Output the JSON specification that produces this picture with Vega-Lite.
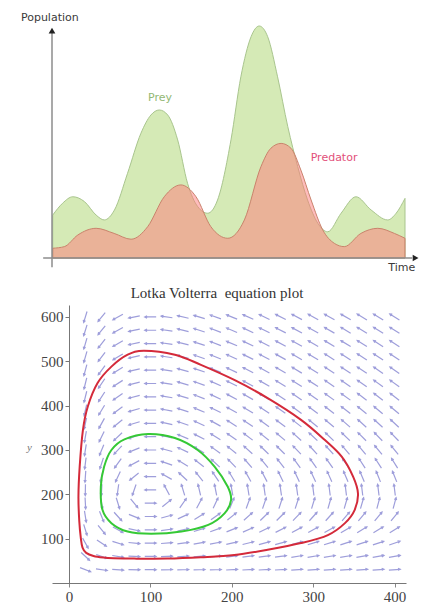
{
"$schema": "https://vega.github.io/schema/vega-lite/v6.json",
"background": "white",
"padding": {"left": 20, "top": 12, "right": 5, "bottom": 5},
"bounds": "flush",
"spacing": 47,
"config": {"view": {"stroke": null}, "axis": {"grid": false}},
"datasets": {
"prey": [
{"t":0.2,"p":18.5},{"t":3.0,"p":23.6},{"t":5.9,"p":26.4},{"t":9.2,"p":24.3},{"t":12.5,"p":18.5},{"t":14.8,"p":16.4},{"t":17.7,"p":20.7},{"t":21.4,"p":36.5},{"t":25.2,"p":53.8},{"t":28.0,"p":61.6},{"t":30.4,"p":63.8},{"t":32.8,"p":61.6},{"t":35.6,"p":50.9},{"t":38.4,"p":32.2},{"t":41.3,"p":22.1},{"t":44.1,"p":19.3},{"t":46.9,"p":25.0},{"t":50.7,"p":50.9},{"t":53.5,"p":78.1},{"t":56.4,"p":95.4},{"t":58.7,"p":100},{"t":61.1,"p":95.4},{"t":63.9,"p":78.1},{"t":66.8,"p":56.6},{"t":69.6,"p":39.4},{"t":72.4,"p":25.0},{"t":75.3,"p":15.0},{"t":78.1,"p":11.3},{"t":81.9,"p":19.3},{"t":86.1,"p":26.4},{"t":90.4,"p":20.7},{"t":95.1,"p":16.4},{"t":97.5,"p":19.3},{"t":100,"p":25.7}
],
"pred": [
{"t":0.2,"p":4.2},{"t":3.5,"p":4.9},{"t":7.3,"p":9.9},{"t":12.5,"p":12.8},{"t":17.6,"p":10.6},{"t":22.4,"p":8.1},{"t":27.1,"p":13.5},{"t":31.8,"p":26.4},{"t":36.5,"p":31.5},{"t":40.8,"p":26.4},{"t":45.0,"p":13.5},{"t":49.8,"p":8.5},{"t":54.5,"p":16.4},{"t":59.2,"p":39.4},{"t":62.0,"p":47.3},{"t":64.9,"p":49.4},{"t":67.7,"p":47.3},{"t":70.5,"p":37.9},{"t":73.4,"p":25.0},{"t":76.7,"p":12.1},{"t":80.0,"p":6.3},{"t":82.8,"p":4.9},{"t":87.5,"p":10.6},{"t":92.3,"p":12.8},{"t":97.0,"p":10.6},{"t":100,"p":8.5}
],
"orbits": [
{"orbit":"red","i":0,"x":92,"y":524},{"orbit":"red","i":1,"x":130,"y":515},{"orbit":"red","i":2,"x":162,"y":492},{"orbit":"red","i":3,"x":203,"y":458},{"orbit":"red","i":4,"x":244,"y":417},{"orbit":"red","i":5,"x":285,"y":368},{"orbit":"red","i":6,"x":314,"y":323},{"orbit":"red","i":7,"x":335,"y":285},{"orbit":"red","i":8,"x":349,"y":240},{"orbit":"red","i":9,"x":355,"y":202},{"orbit":"red","i":10,"x":351,"y":165},{"orbit":"red","i":11,"x":339,"y":135},{"orbit":"red","i":12,"x":318,"y":108},{"orbit":"red","i":13,"x":285,"y":90},{"orbit":"red","i":14,"x":244,"y":75},{"orbit":"red","i":15,"x":203,"y":63},{"orbit":"red","i":16,"x":162,"y":58},{"orbit":"red","i":17,"x":121,"y":55},{"orbit":"red","i":18,"x":80,"y":55},{"orbit":"red","i":19,"x":55,"y":56},{"orbit":"red","i":20,"x":42,"y":57.5},{"orbit":"red","i":21,"x":30,"y":61},{"orbit":"red","i":22,"x":21,"y":68},{"orbit":"red","i":23,"x":16.5,"y":80},{"orbit":"red","i":24,"x":14.5,"y":100},{"orbit":"red","i":25,"x":12.5,"y":140},{"orbit":"red","i":26,"x":11.5,"y":195},{"orbit":"red","i":27,"x":13,"y":262},{"orbit":"red","i":28,"x":17,"y":345},{"orbit":"red","i":29,"x":23,"y":398},{"orbit":"red","i":30,"x":35,"y":451},{"orbit":"red","i":31,"x":52,"y":488},{"orbit":"red","i":32,"x":72,"y":515},
{"orbit":"green","i":0,"x":97,"y":336},{"orbit":"green","i":1,"x":130,"y":327},{"orbit":"green","i":2,"x":158,"y":300},{"orbit":"green","i":3,"x":179,"y":262},{"orbit":"green","i":4,"x":195,"y":217},{"orbit":"green","i":5,"x":199,"y":187},{"orbit":"green","i":6,"x":191,"y":157},{"orbit":"green","i":7,"x":171,"y":131},{"orbit":"green","i":8,"x":138,"y":116},{"orbit":"green","i":9,"x":101,"y":111},{"orbit":"green","i":10,"x":72,"y":116},{"orbit":"green","i":11,"x":52,"y":135},{"orbit":"green","i":12,"x":41,"y":165},{"orbit":"green","i":13,"x":39,"y":217},{"orbit":"green","i":14,"x":43,"y":262},{"orbit":"green","i":15,"x":52,"y":300},{"orbit":"green","i":16,"x":68,"y":324}
],
"field": [
{"x":20,"y":30,"a":21},{"x":40,"y":30,"a":8},{"x":60,"y":30,"a":4},{"x":80,"y":30,"a":1},{"x":100,"y":30,"a":0},{"x":120,"y":30,"a":-1},{"x":140,"y":30,"a":-2},{"x":160,"y":30,"a":-2},{"x":180,"y":30,"a":-2},{"x":200,"y":30,"a":-3},{"x":220,"y":30,"a":-3},{"x":240,"y":30,"a":-3},{"x":260,"y":30,"a":-3},{"x":280,"y":30,"a":-4},{"x":300,"y":30,"a":-4},{"x":320,"y":30,"a":-4},{"x":340,"y":30,"a":-4},{"x":360,"y":30,"a":-4},{"x":380,"y":30,"a":-4},{"x":400,"y":30,"a":-4},
{"x":20,"y":60,"a":43},{"x":40,"y":60,"a":19},{"x":60,"y":60,"a":9},{"x":80,"y":60,"a":3},{"x":100,"y":60,"a":0},{"x":120,"y":60,"a":-2},{"x":140,"y":60,"a":-4},{"x":160,"y":60,"a":-5},{"x":180,"y":60,"a":-6},{"x":200,"y":60,"a":-7},{"x":220,"y":60,"a":-7},{"x":240,"y":60,"a":-8},{"x":260,"y":60,"a":-8},{"x":280,"y":60,"a":-9},{"x":300,"y":60,"a":-9},{"x":320,"y":60,"a":-9},{"x":340,"y":60,"a":-9},{"x":360,"y":60,"a":-10},{"x":380,"y":60,"a":-10},{"x":400,"y":60,"a":-10},
{"x":20,"y":90,"a":61},{"x":40,"y":90,"a":34},{"x":60,"y":90,"a":17},{"x":80,"y":90,"a":6},{"x":100,"y":90,"a":0},{"x":120,"y":90,"a":-4},{"x":140,"y":90,"a":-7},{"x":160,"y":90,"a":-10},{"x":180,"y":90,"a":-11},{"x":200,"y":90,"a":-13},{"x":220,"y":90,"a":-14},{"x":240,"y":90,"a":-15},{"x":260,"y":90,"a":-15},{"x":280,"y":90,"a":-16},{"x":300,"y":90,"a":-17},{"x":320,"y":90,"a":-17},{"x":340,"y":90,"a":-18},{"x":360,"y":90,"a":-18},{"x":380,"y":90,"a":-18},{"x":400,"y":90,"a":-19},
{"x":20,"y":120,"a":73},{"x":40,"y":120,"a":51},{"x":60,"y":120,"a":29},{"x":80,"y":120,"a":12},{"x":100,"y":120,"a":0},{"x":120,"y":120,"a":-8},{"x":140,"y":120,"a":-13},{"x":160,"y":120,"a":-17},{"x":180,"y":120,"a":-20},{"x":200,"y":120,"a":-22},{"x":220,"y":120,"a":-24},{"x":240,"y":120,"a":-26},{"x":260,"y":120,"a":-27},{"x":280,"y":120,"a":-28},{"x":300,"y":120,"a":-29},{"x":320,"y":120,"a":-29},{"x":340,"y":120,"a":-30},{"x":360,"y":120,"a":-31},{"x":380,"y":120,"a":-31},{"x":400,"y":120,"a":-32},
{"x":20,"y":150,"a":81},{"x":40,"y":150,"a":68},{"x":60,"y":150,"a":48},{"x":80,"y":150,"a":22},{"x":100,"y":150,"a":0},{"x":120,"y":150,"a":-15},{"x":140,"y":150,"a":-25},{"x":160,"y":150,"a":-32},{"x":180,"y":150,"a":-36},{"x":200,"y":150,"a":-39},{"x":220,"y":150,"a":-42},{"x":240,"y":150,"a":-44},{"x":260,"y":150,"a":-45},{"x":280,"y":150,"a":-46},{"x":300,"y":150,"a":-48},{"x":320,"y":150,"a":-48},{"x":340,"y":150,"a":-49},{"x":360,"y":150,"a":-50},{"x":380,"y":150,"a":-50},{"x":400,"y":150,"a":-51},
{"x":20,"y":180,"a":87},{"x":40,"y":180,"a":82},{"x":60,"y":180,"a":73},{"x":80,"y":180,"a":51},{"x":100,"y":180,"a":0},{"x":120,"y":180,"a":-39},{"x":140,"y":180,"a":-55},{"x":160,"y":180,"a":-62},{"x":180,"y":180,"a":-65},{"x":200,"y":180,"a":-68},{"x":220,"y":180,"a":-70},{"x":240,"y":180,"a":-71},{"x":260,"y":180,"a":-72},{"x":280,"y":180,"a":-72},{"x":300,"y":180,"a":-73},{"x":320,"y":180,"a":-74},{"x":340,"y":180,"a":-74},{"x":360,"y":180,"a":-74},{"x":380,"y":180,"a":-75},{"x":400,"y":180,"a":-75},
{"x":20,"y":210,"a":91},{"x":40,"y":210,"a":93},{"x":60,"y":210,"a":98},{"x":80,"y":210,"a":109},{"x":100,"y":210,"a":180},{"x":120,"y":210,"a":242},{"x":140,"y":210,"a":253},{"x":160,"y":210,"a":257},{"x":180,"y":210,"a":259},{"x":200,"y":210,"a":260},{"x":220,"y":210,"a":261},{"x":240,"y":210,"a":262},{"x":260,"y":210,"a":262},{"x":280,"y":210,"a":262},{"x":300,"y":210,"a":263},{"x":320,"y":210,"a":263},{"x":340,"y":210,"a":263},{"x":360,"y":210,"a":263},{"x":380,"y":210,"a":263},{"x":400,"y":210,"a":263},
{"x":20,"y":240,"a":94},{"x":40,"y":240,"a":102},{"x":60,"y":240,"a":115},{"x":80,"y":240,"a":141},{"x":100,"y":240,"a":180},{"x":120,"y":240,"a":209},{"x":140,"y":240,"a":223},{"x":160,"y":240,"a":231},{"x":180,"y":240,"a":236},{"x":200,"y":240,"a":239},{"x":220,"y":240,"a":241},{"x":240,"y":240,"a":242},{"x":260,"y":240,"a":244},{"x":280,"y":240,"a":245},{"x":300,"y":240,"a":245},{"x":320,"y":240,"a":246},{"x":340,"y":240,"a":247},{"x":360,"y":240,"a":247},{"x":380,"y":240,"a":248},{"x":400,"y":240,"a":248},
{"x":20,"y":270,"a":97},{"x":40,"y":270,"a":108},{"x":60,"y":270,"a":126},{"x":80,"y":270,"a":152},{"x":100,"y":270,"a":180},{"x":120,"y":270,"a":199},{"x":140,"y":270,"a":211},{"x":160,"y":270,"a":218},{"x":180,"y":270,"a":223},{"x":200,"y":270,"a":226},{"x":220,"y":270,"a":229},{"x":240,"y":270,"a":231},{"x":260,"y":270,"a":232},{"x":280,"y":270,"a":234},{"x":300,"y":270,"a":235},{"x":320,"y":270,"a":235},{"x":340,"y":270,"a":236},{"x":360,"y":270,"a":237},{"x":380,"y":270,"a":237},{"x":400,"y":270,"a":238},
{"x":20,"y":300,"a":99},{"x":40,"y":300,"a":112},{"x":60,"y":300,"a":133},{"x":80,"y":300,"a":158},{"x":100,"y":300,"a":180},{"x":120,"y":300,"a":195},{"x":140,"y":300,"a":205},{"x":160,"y":300,"a":212},{"x":180,"y":300,"a":216},{"x":200,"y":300,"a":219},{"x":220,"y":300,"a":222},{"x":240,"y":300,"a":224},{"x":260,"y":300,"a":225},{"x":280,"y":300,"a":226},{"x":300,"y":300,"a":228},{"x":320,"y":300,"a":228},{"x":340,"y":300,"a":229},{"x":360,"y":300,"a":230},{"x":380,"y":300,"a":230},{"x":400,"y":300,"a":231},
{"x":20,"y":330,"a":100},{"x":40,"y":330,"a":116},{"x":60,"y":330,"a":137},{"x":80,"y":330,"a":161},{"x":100,"y":330,"a":180},{"x":120,"y":330,"a":193},{"x":140,"y":330,"a":202},{"x":160,"y":330,"a":207},{"x":180,"y":330,"a":212},{"x":200,"y":330,"a":215},{"x":220,"y":330,"a":217},{"x":240,"y":330,"a":219},{"x":260,"y":330,"a":220},{"x":280,"y":330,"a":222},{"x":300,"y":330,"a":223},{"x":320,"y":330,"a":224},{"x":340,"y":330,"a":224},{"x":360,"y":330,"a":225},{"x":380,"y":330,"a":226},{"x":400,"y":330,"a":226},
{"x":20,"y":360,"a":102},{"x":40,"y":360,"a":119},{"x":60,"y":360,"a":141},{"x":80,"y":360,"a":163},{"x":100,"y":360,"a":180},{"x":120,"y":360,"a":192},{"x":140,"y":360,"a":199},{"x":160,"y":360,"a":205},{"x":180,"y":360,"a":209},{"x":200,"y":360,"a":212},{"x":220,"y":360,"a":214},{"x":240,"y":360,"a":216},{"x":260,"y":360,"a":217},{"x":280,"y":360,"a":218},{"x":300,"y":360,"a":219},{"x":320,"y":360,"a":220},{"x":340,"y":360,"a":221},{"x":360,"y":360,"a":222},{"x":380,"y":360,"a":222},{"x":400,"y":360,"a":223},
{"x":20,"y":390,"a":103},{"x":40,"y":390,"a":121},{"x":60,"y":390,"a":143},{"x":80,"y":390,"a":164},{"x":100,"y":390,"a":180},{"x":120,"y":390,"a":191},{"x":140,"y":390,"a":198},{"x":160,"y":390,"a":203},{"x":180,"y":390,"a":206},{"x":200,"y":390,"a":209},{"x":220,"y":390,"a":211},{"x":240,"y":390,"a":213},{"x":260,"y":390,"a":215},{"x":280,"y":390,"a":216},{"x":300,"y":390,"a":217},{"x":320,"y":390,"a":218},{"x":340,"y":390,"a":218},{"x":360,"y":390,"a":219},{"x":380,"y":390,"a":220},{"x":400,"y":390,"a":220},
{"x":20,"y":420,"a":104},{"x":40,"y":420,"a":123},{"x":60,"y":420,"a":145},{"x":80,"y":420,"a":165},{"x":100,"y":420,"a":180},{"x":120,"y":420,"a":190},{"x":140,"y":420,"a":197},{"x":160,"y":420,"a":201},{"x":180,"y":420,"a":205},{"x":200,"y":420,"a":208},{"x":220,"y":420,"a":210},{"x":240,"y":420,"a":211},{"x":260,"y":420,"a":213},{"x":280,"y":420,"a":214},{"x":300,"y":420,"a":215},{"x":320,"y":420,"a":216},{"x":340,"y":420,"a":216},{"x":360,"y":420,"a":217},{"x":380,"y":420,"a":218},{"x":400,"y":420,"a":218},
{"x":20,"y":450,"a":104},{"x":40,"y":450,"a":124},{"x":60,"y":450,"a":147},{"x":80,"y":450,"a":166},{"x":100,"y":450,"a":180},{"x":120,"y":450,"a":189},{"x":140,"y":450,"a":196},{"x":160,"y":450,"a":200},{"x":180,"y":450,"a":204},{"x":200,"y":450,"a":206},{"x":220,"y":450,"a":208},{"x":240,"y":450,"a":210},{"x":260,"y":450,"a":211},{"x":280,"y":450,"a":212},{"x":300,"y":450,"a":213},{"x":320,"y":450,"a":214},{"x":340,"y":450,"a":215},{"x":360,"y":450,"a":215},{"x":380,"y":450,"a":216},{"x":400,"y":450,"a":216},
{"x":20,"y":480,"a":105},{"x":40,"y":480,"a":126},{"x":60,"y":480,"a":148},{"x":80,"y":480,"a":167},{"x":100,"y":480,"a":180},{"x":120,"y":480,"a":189},{"x":140,"y":480,"a":195},{"x":160,"y":480,"a":199},{"x":180,"y":480,"a":203},{"x":200,"y":480,"a":205},{"x":220,"y":480,"a":207},{"x":240,"y":480,"a":209},{"x":260,"y":480,"a":210},{"x":280,"y":480,"a":211},{"x":300,"y":480,"a":212},{"x":320,"y":480,"a":213},{"x":340,"y":480,"a":213},{"x":360,"y":480,"a":214},{"x":380,"y":480,"a":215},{"x":400,"y":480,"a":215},
{"x":20,"y":510,"a":106},{"x":40,"y":510,"a":127},{"x":60,"y":510,"a":149},{"x":80,"y":510,"a":167},{"x":100,"y":510,"a":180},{"x":120,"y":510,"a":189},{"x":140,"y":510,"a":194},{"x":160,"y":510,"a":199},{"x":180,"y":510,"a":202},{"x":200,"y":510,"a":204},{"x":220,"y":510,"a":206},{"x":240,"y":510,"a":208},{"x":260,"y":510,"a":209},{"x":280,"y":510,"a":210},{"x":300,"y":510,"a":211},{"x":320,"y":510,"a":212},{"x":340,"y":510,"a":212},{"x":360,"y":510,"a":213},{"x":380,"y":510,"a":213},{"x":400,"y":510,"a":214},
{"x":20,"y":540,"a":106},{"x":40,"y":540,"a":128},{"x":60,"y":540,"a":150},{"x":80,"y":540,"a":168},{"x":100,"y":540,"a":180},{"x":120,"y":540,"a":188},{"x":140,"y":540,"a":194},{"x":160,"y":540,"a":198},{"x":180,"y":540,"a":201},{"x":200,"y":540,"a":203},{"x":220,"y":540,"a":205},{"x":240,"y":540,"a":207},{"x":260,"y":540,"a":208},{"x":280,"y":540,"a":209},{"x":300,"y":540,"a":210},{"x":320,"y":540,"a":211},{"x":340,"y":540,"a":211},{"x":360,"y":540,"a":212},{"x":380,"y":540,"a":213},{"x":400,"y":540,"a":213},
{"x":20,"y":570,"a":107},{"x":40,"y":570,"a":129},{"x":60,"y":570,"a":151},{"x":80,"y":570,"a":168},{"x":100,"y":570,"a":180},{"x":120,"y":570,"a":188},{"x":140,"y":570,"a":194},{"x":160,"y":570,"a":198},{"x":180,"y":570,"a":201},{"x":200,"y":570,"a":203},{"x":220,"y":570,"a":205},{"x":240,"y":570,"a":206},{"x":260,"y":570,"a":207},{"x":280,"y":570,"a":208},{"x":300,"y":570,"a":209},{"x":320,"y":570,"a":210},{"x":340,"y":570,"a":211},{"x":360,"y":570,"a":211},{"x":380,"y":570,"a":212},{"x":400,"y":570,"a":212},
{"x":20,"y":600,"a":107},{"x":40,"y":600,"a":129},{"x":60,"y":600,"a":151},{"x":80,"y":600,"a":169},{"x":100,"y":600,"a":180},{"x":120,"y":600,"a":188},{"x":140,"y":600,"a":193},{"x":160,"y":600,"a":197},{"x":180,"y":600,"a":200},{"x":200,"y":600,"a":202},{"x":220,"y":600,"a":204},{"x":240,"y":600,"a":206},{"x":260,"y":600,"a":207},{"x":280,"y":600,"a":208},{"x":300,"y":600,"a":209},{"x":320,"y":600,"a":209},{"x":340,"y":600,"a":210},{"x":360,"y":600,"a":211},{"x":380,"y":600,"a":211},{"x":400,"y":600,"a":212}
]
},
"vconcat": [
{
"width": 353, "height": 232,
"encoding": {
"x": {"field": "t", "type": "quantitative", "scale": {"domain": [0, 100], "nice": false, "zero": false}, "axis": null},
"y": {"field": "p", "type": "quantitative", "scale": {"domain": [0, 100], "nice": false, "zero": false}, "axis": null}
},
"layer": [
{"data": {"name": "prey"}, "mark": {"type": "area", "interpolate": "monotone", "fill": "#d5eab6", "stroke": "#a9c58e", "strokeWidth": 1}},
{"data": {"name": "pred"}, "mark": {"type": "area", "interpolate": "monotone", "fill": "#ff7a7a", "fillOpacity": 0.5, "stroke": "#c9836c", "strokeWidth": 1}},
{"data": {"values": [{"t": 0, "p": -4, "p2": 97}]}, "mark": {"type": "rule", "color": "#8c8c8c", "strokeWidth": 1.5}, "encoding": {"y2": {"field": "p2"}}},
{"data": {"values": [{"t": -2.5, "t2": 102, "p": 0}]}, "mark": {"type": "rule", "color": "#8c8c8c", "strokeWidth": 1.5}, "encoding": {"x2": {"field": "t2"}}},
{"data": {"values": [{"t": 0, "p": 98, "s": "triangle-up"}, {"t": 103, "p": 0, "s": "triangle-right"}]}, "mark": {"type": "point", "filled": true, "color": "#222222", "size": 45, "opacity": 1}, "encoding": {"shape": {"field": "s", "type": "nominal", "scale": null}}},
{"data": {"values": [{"t": -8.8, "p": 106, "label": "Population"}]}, "mark": {"type": "text", "align": "left", "baseline": "top", "font": "DejaVu Sans", "fontSize": 11, "color": "#3a3a3a"}, "encoding": {"text": {"field": "label"}}},
{"data": {"values": [{"t": 30.6, "p": 69, "label": "Prey", "c": "#93b874"}, {"t": 79.9, "p": 43.1, "label": "Predator", "c": "#e2507a"}, {"t": 99.1, "p": -4.3, "label": "Time", "c": "#3a3a3a"}]}, "mark": {"type": "text", "align": "center", "baseline": "middle", "font": "DejaVu Sans", "fontSize": 11}, "encoding": {"text": {"field": "label"}, "color": {"field": "c", "type": "nominal", "scale": null}}}
]
},
{
"width": 354, "height": 278,
"title": {"text": "Lotka Volterra\u00a0 equation plot", "font": "Liberation Serif", "fontSize": 15, "fontWeight": "normal", "color": "#333333", "anchor": "middle", "dx": -12, "offset": 4},
"layer": [
{"data": {"name": "field"},
 "mark": {"type": "point", "shape": "M-1,0L1,0M0.6,-0.2L1,0L0.6,0.2", "filled": false, "color": "#7e7ecf", "strokeWidth": 1.2, "size": 130, "opacity": 0.75},
 "encoding": {
  "x": {"field": "x", "type": "quantitative", "scale": {"domain": [-21, 414], "nice": false, "zero": false},
        "axis": {"values": [0, 100, 200, 300, 400], "labelOverlap": false, "title": null, "labelFont": "Liberation Serif", "labelFontSize": 15, "labelColor": "#444444", "domainColor": "#777777", "tickColor": "#888888", "tickSize": 4, "labelPadding": 2, "grid": false}},
  "y": {"field": "y", "type": "quantitative", "scale": {"domain": [0, 627], "nice": false, "zero": false},
        "axis": {"values": [100, 200, 300, 400, 500, 600], "offset": -17, "title": "y", "titleAngle": 0, "titleX": -40, "titleY": 142, "titleAlign": "center", "titleBaseline": "middle", "titleFont": "Liberation Serif", "titleFontStyle": "italic", "titleFontSize": 11, "titleFontWeight": "normal", "titleColor": "#777777", "labelFont": "Liberation Serif", "labelFontSize": 15, "labelColor": "#444444", "domainColor": "#777777", "tickColor": "#777777", "tickSize": 4, "labelPadding": 2, "grid": false}},
  "angle": {"field": "a", "type": "quantitative", "scale": null}
 }},
{"data": {"name": "orbits"},
 "mark": {"type": "line", "interpolate": "cardinal-closed", "strokeWidth": 2},
 "encoding": {
  "x": {"field": "x", "type": "quantitative"},
  "y": {"field": "y", "type": "quantitative"},
  "order": {"field": "i", "type": "quantitative"},
  "color": {"field": "orbit", "type": "nominal", "scale": {"domain": ["red", "green"], "range": ["#d42a3a", "#35c935"]}, "legend": null}
 }}
]
}
]
}
